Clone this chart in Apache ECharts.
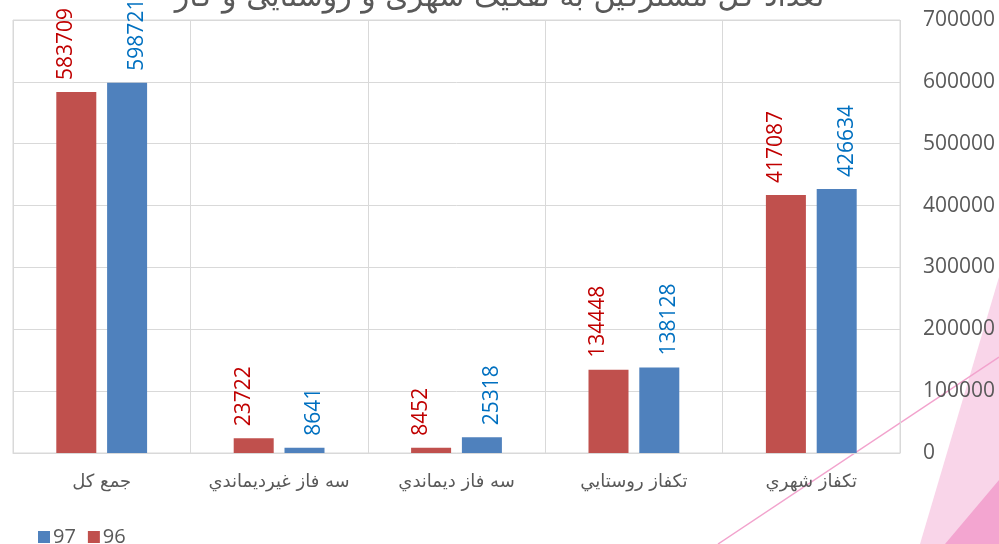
<!DOCTYPE html>
<html>
<head>
<meta charset="utf-8">
<script src="https://cdn.jsdelivr.net/npm/echarts@6/dist/echarts.min.js"></script>
<style>
	html, body { margin: 0; padding: 0; background: #fff; }
	#chart { width: 999px; height: 544px; }
</style>
</head>
<body>
<div id="chart"></div>
<script>
	// دسته ها از چپ به راست
	const categories = ['جمع کل', 'سه فاز غيرديماندي', 'سه فاز ديماندي', 'تکفاز روستايي', 'تکفاز شهري']
	const values96 = [583709, 23722, 8452, 134448, 417087]
	const values97 = [598721, 8641, 25318, 138128, 426634]
	const yTicks = { min: 0, max: 700000, interval: 100000 }
	const titleText = 'تعداد کل مشترکین به تفکیک شهری و روستایی و کار'

	const grey = '#595959'
	const gridLine = '#d9d9d9'
	const numFont = '"Open Sans", "Noto Sans", sans-serif'
	const faFont = '"DejaVu Sans", sans-serif'

	const myChart = echarts.init(document.getElementById('chart'), null, { renderer: 'canvas' })

	const barLabel = (color, shift) => ({
		show: true,
		position: 'top',
		distance: 12,
		rotate: 90,
		align: 'left',
		verticalAlign: 'middle',
		offset: [0, shift],
		color: color,
		fontFamily: numFont,
		fontSize: 21
	})

	const option = {
		backgroundColor: '#fff',
		animation: false,
		graphic: [
			// تزئینات صورتی گوشه پایین راست
			{ type: 'polygon', z: 0, shape: { points: [[920, 544], [999, 277], [999, 544]] }, style: { fill: '#f9d5e9' } },
			{ type: 'polygon', z: 0, shape: { points: [[945, 544], [999, 480], [999, 544]] }, style: { fill: '#f3a5d0' } },
			{ type: 'line', z: 0, shape: { x1: 718, y1: 544, x2: 999, y2: 357 }, style: { stroke: '#f2a3cd', lineWidth: 1.5 } },
			{
				type: 'text', z: 10, left: 'center', top: -17,
				style: { text: titleText, fill: grey, font: '30px ' + faFont }
			}
		],
		legend: {
			data: ['97', '96'],
			left: 33,
			top: 522,
			icon: 'rect',
			itemWidth: 12,
			itemHeight: 12,
			itemGap: 12,
			textStyle: { color: grey, fontFamily: numFont, fontSize: 20, padding: [0, 0, 0, -2] }
		},
		grid: {
			left: 13,
			right: 99,
			top: 20,
			bottom: 91,
			show: true,
			borderColor: gridLine,
			borderWidth: 1
		},
		xAxis: {
			type: 'category',
			data: categories,
			axisTick: { show: false },
			axisLine: { lineStyle: { color: gridLine, width: 1 } },
			splitLine: { show: true, interval: 0, lineStyle: { color: gridLine, width: 1 } },
			axisLabel: { interval: 0, color: grey, fontFamily: faFont, fontSize: 18, margin: 20 }
		},
		yAxis: {
			type: 'value',
			position: 'right',
			min: yTicks.min,
			max: yTicks.max,
			interval: yTicks.interval,
			axisLine: { show: false },
			axisTick: { show: false },
			splitLine: { lineStyle: { color: gridLine, width: 1 } },
			axisLabel: {
				color: grey, fontFamily: numFont, fontSize: 21, align: 'left', margin: 23,
				formatter: v => String(v)
			}
		},
		series: [{
			name: '96',
			type: 'bar',
			barWidth: 40,
			barGap: '27%',
			itemStyle: { color: '#c0504d' },
			label: barLabel('#c00000', -10),
			data: values96
		}, {
			name: '97',
			type: 'bar',
			barWidth: 40,
			barGap: '27%',
			itemStyle: { color: '#4f81bd' },
			label: barLabel('#0070c0', 10),
			data: values97
		}]
	}

	myChart.setOption(option)
</script>
</body>
</html>
